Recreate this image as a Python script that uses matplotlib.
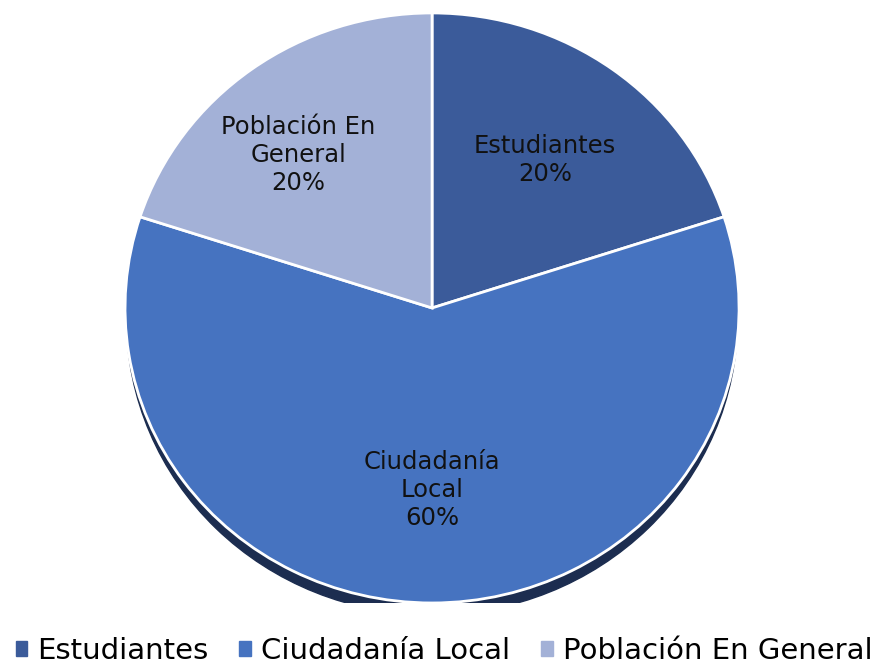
import matplotlib.pyplot as plt
from matplotlib.patches import Ellipse, Patch

labels = ['Estudiantes', 'Ciudadanía Local', 'Población En General']
inner_labels = ['Estudiantes\n20%', 'Ciudadanía\nLocal\n60%', 'Población En\nGeneral\n20%']
values = [20, 60, 20]
colors = ['#3B5B9A', '#4673C0', '#A3B1D7']

plt.rcParams['font.family'] = ['DejaVu Sans']

fig = plt.figure(figsize=(8.83, 6.64), dpi=100)
ax = fig.add_axes([0.1416, 0.0919, 0.6954, 0.8886])

# shadow under the pie
ax.add_patch(Ellipse((0, -0.04), 1.99, 2.0, color='#1C2D50', zorder=0))

wedges, _ = ax.pie(values, colors=colors, startangle=90, counterclock=False,
                   radius=1, wedgeprops=dict(edgecolor='white', linewidth=2))
for w in wedges:
    w.set_zorder(1)
ax.set_aspect('auto')
ax.set_xlim(-1, 1)
ax.set_ylim(-1, 1)
ax.axis('off')

# labels inside slices (figure pixel positions)
pos = [(545, 160), (432, 490), (298, 155)]
for (x, y), t in zip(pos, inner_labels):
    fig.text(x / 883, 1 - y / 664, t, ha='center', va='center',
             fontsize=17.5, color='#111111', linespacing=1.2)

handles = [Patch(color=c) for c in colors]
fig.legend(handles, labels, loc='center', bbox_to_anchor=(0.503, 0.02),
           ncol=3, frameon=False, fontsize=21, handlelength=0.4,
           handleheight=0.4, handletextpad=0.35, columnspacing=1.05)

fig.savefig('out.png', dpi=100)
